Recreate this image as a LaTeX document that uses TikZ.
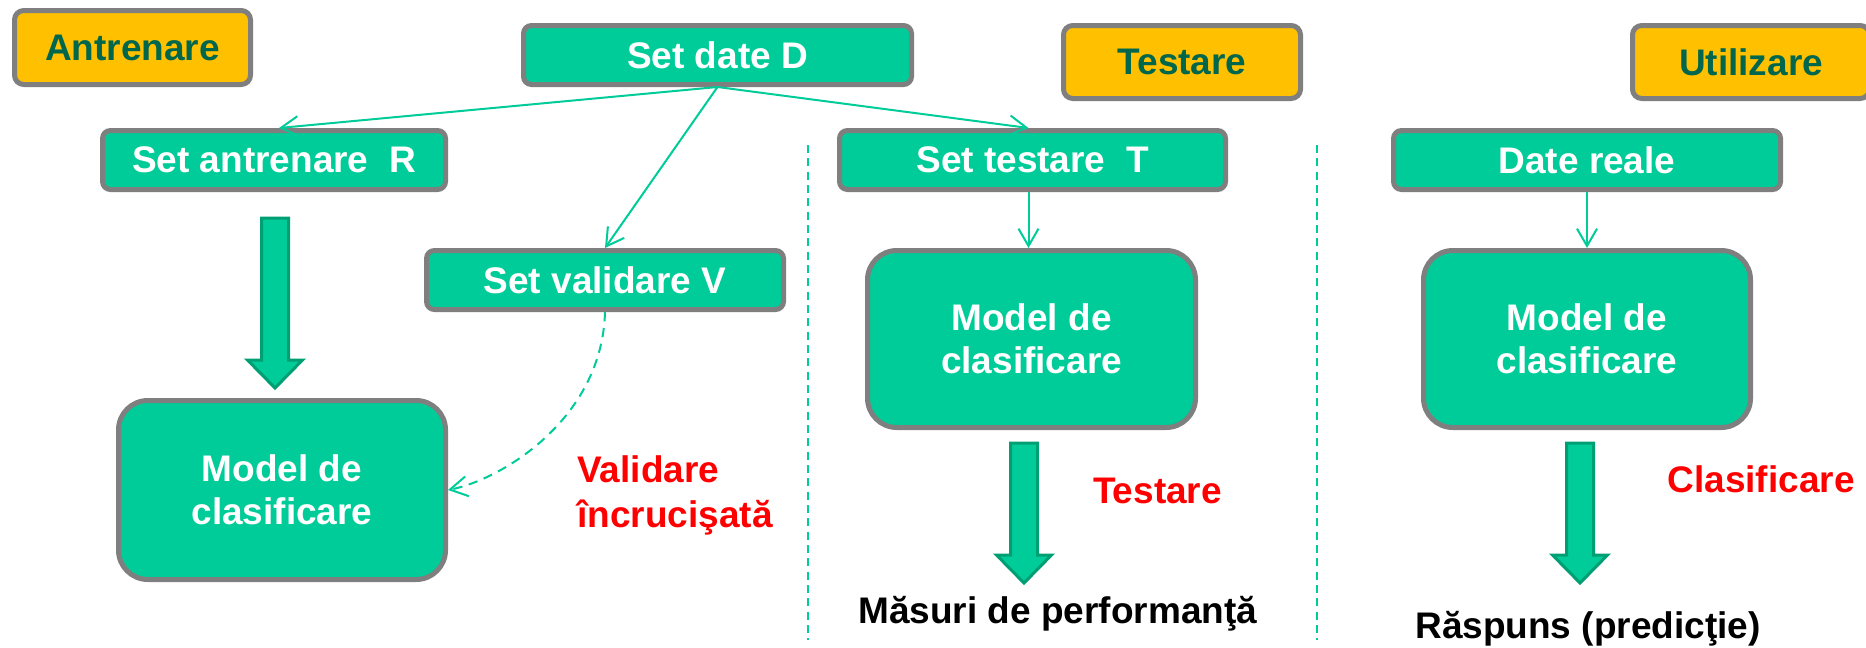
\documentclass[tikz,border=0pt]{standalone}
\usepackage{fontspec}
\setmainfont{Liberation Sans}
\usetikzlibrary{arrows.meta}
\definecolor{boxgreen}{RGB}{0,204,153}
\definecolor{boxgray}{RGB}{127,127,127}
\definecolor{boxyellow}{RGB}{255,192,0}
\definecolor{darkgreen}{RGB}{0,102,76}
\definecolor{arrowedge}{RGB}{0,158,115}
\newcommand{\blockarrow}[3]{%
  \draw[bigarrow] (#1-13.5,#2) -- (#1+13.5,#2) -- (#1+13.5,#3-28) -- (#1+27.5,#3-28)
    -- (#1,#3) -- (#1-27.5,#3-28) -- (#1-13.5,#3-28) -- cycle;}
\begin{document}
\begin{tikzpicture}[x=0.75pt,y=-0.75pt,
  font=\fontsize{27.75}{32.25}\selectfont\bfseries,
  setbox/.style={draw=boxgray,line width=3.75pt,fill=boxgreen,text=white,rounded corners=6pt,inner sep=0pt,minimum height=44.25pt},
  phasebox/.style={draw=boxgray,line width=3.75pt,fill=boxyellow,text=darkgreen,rounded corners=7pt,inner sep=0pt},
  modelbox/.style={draw=boxgray,line width=3.75pt,fill=boxgreen,text=white,rounded corners=22pt,inner sep=0pt,align=center},
  link/.style={draw=boxgreen,line width=1.5pt,-{Straight Barb[length=13pt,width=15pt]}},
  sepline/.style={draw=boxgreen,line width=1pt,dash pattern=on 6pt off 4pt},
  bigarrow/.style={draw=arrowedge,fill=boxgreen,line width=2.25pt,line join=miter},
  redlabel/.style={text=red,inner sep=0pt},
  blacklabel/.style={text=black,inner sep=0pt}
]
\useasboundingbox (0,0) rectangle (1866,647);

% phase labels
\node[phasebox,minimum width=177pt,minimum height=55.5pt] (antr) at (132.5,47.5) {Antrenare};
\node[phasebox,minimum width=177.75pt,minimum height=54.75pt] (testY) at (1182,62) {Testare};
\node[phasebox,minimum width=177.75pt,minimum height=54.75pt] (utilY) at (1751,62) {Utilizare};

% data sets
\node[setbox,minimum width=291pt] (D) at (717.5,55) {Set date D};
\node[setbox,minimum width=257.25pt] (R) at (274,160) {Set antrenare\ \ R};
\node[setbox,minimum width=289.5pt] (T) at (1032.5,160) {Set testare\ \ T};
\node[setbox,minimum width=290.25pt] (reale) at (1587,160) {Date reale};
\node[setbox,minimum width=267.75pt] (V) at (605,280) {Set validare V};

% models
\node[modelbox,minimum width=245.25pt,minimum height=134.25pt] (M1) at (282,490) {Model de\\clasificare};
\node[modelbox,minimum width=246pt,minimum height=132.75pt] (M2) at (1031.5,339) {Model de\\clasificare};
\node[modelbox,minimum width=245.25pt,minimum height=132.75pt] (M3) at (1587,339) {Model de\\clasificare};

% separators
\draw[sepline] (808,145) -- (808,640);
\draw[sepline] (1317,145) -- (1317,640);

% thin connectors
\draw[link] (D.south) -- ([xshift=3.75pt]R.north);
\draw[link] (D.south) -- (V.north);
\draw[link] (D.south) -- ([xshift=-3pt]T.north);
\draw[link] ([xshift=-3pt]T.south) -- ([xshift=-3pt]T.south |- M2.north);
\draw[link] (reale.south) -- (reale.south |- M3.north);
\draw[link,dash pattern=on 7pt off 5pt] (V.south) .. controls (602,420) and (500,480) .. (M1.east);

% block arrows
\blockarrow{275}{218}{388}
\blockarrow{1024}{443}{583}
\blockarrow{1580}{443}{583}

% labels
\node[redlabel,anchor=base west] (val1) at (577,482) {Validare};
\node[redlabel,anchor=base west] (val2) at (577,527) {încrucişată};
\node[redlabel,anchor=base] (testlbl) at (1157.5,503) {Testare};
\node[redlabel,anchor=base] (claslbl) at (1761,492) {Clasificare};
\node[blacklabel,anchor=base west] (masuri) at (858,623) {Măsuri de performanţă};
\node[blacklabel,anchor=base west] (raspuns) at (1415,638) {Răspuns (predicţie)};
\end{tikzpicture}
\end{document}
